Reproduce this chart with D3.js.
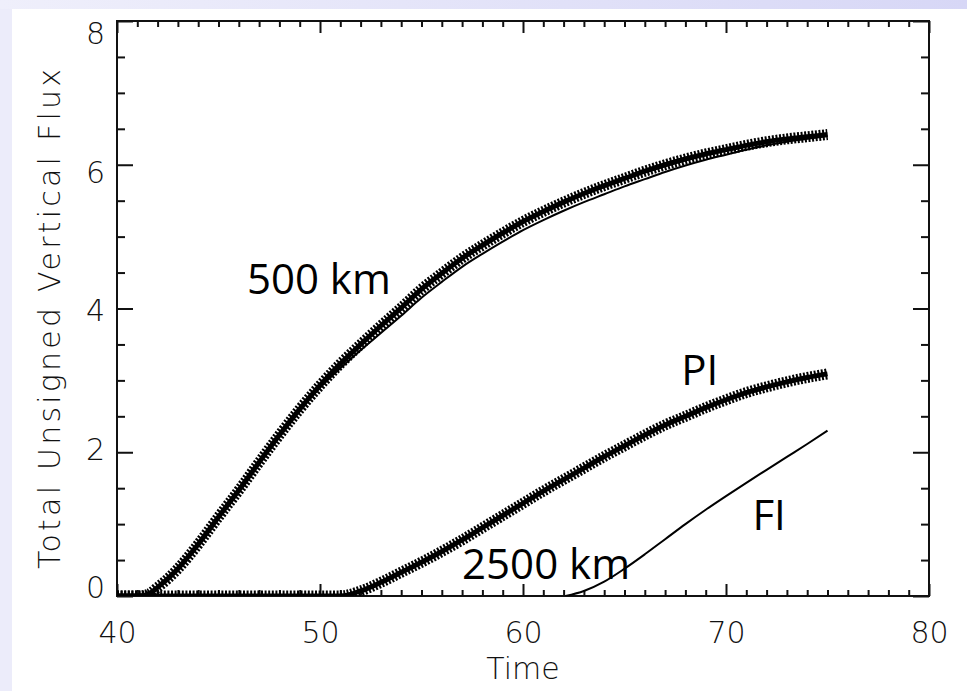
<!DOCTYPE html>
<html>
<head>
<meta charset="utf-8">
<script src="https://cdn.jsdelivr.net/npm/d3@7"></script>
<style>
  html, body { margin: 0; background: #fff; overflow: hidden; }
  svg { display: block; }
  .tick text { font-family: "DejaVu Sans", sans-serif; font-weight: 200; fill: #111; }
</style>
</head>
<body>
<div id="chart"></div>
<script>
// 500 km run, plotted with + symbols
const time500 = [40, 41, 41.5, 42, 43, 44, 45, 46, 47, 48, 49, 50, 51, 52, 53, 54, 55, 56, 57, 58, 59, 60, 61, 62, 63, 64, 65, 66, 67, 68, 69, 70, 71, 72, 73, 74, 75];
const flux500 = [0, 0, 0.02, 0.12, 0.38, 0.72, 1.1, 1.47, 1.86, 2.24, 2.6, 2.93, 3.23, 3.5, 3.76, 4.01, 4.27, 4.49, 4.7, 4.88, 5.05, 5.21, 5.35, 5.48, 5.6, 5.71, 5.81, 5.91, 6.0, 6.08, 6.15, 6.21, 6.27, 6.32, 6.36, 6.39, 6.42];
// 500 km, plain line
const flux500Line = [0, 0, 0.02, 0.12, 0.38, 0.72, 1.1, 1.47, 1.86, 2.24, 2.59, 2.9, 3.17, 3.42, 3.66, 3.9, 4.15, 4.37, 4.58, 4.76, 4.93, 5.09, 5.23, 5.36, 5.48, 5.59, 5.7, 5.8, 5.9, 5.99, 6.07, 6.14, 6.21, 6.27, 6.32, 6.36, 6.4];
// 2500 km, PI
const timePI = [40, 51, 52, 53, 54, 55, 56, 57, 58, 59, 60, 61, 62, 63, 64, 65, 66, 67, 68, 69, 70, 71, 72, 73, 74, 75];
const fluxPI = [0, 0, 0.07, 0.19, 0.33, 0.47, 0.62, 0.78, 0.95, 1.12, 1.29, 1.46, 1.62, 1.78, 1.94, 2.09, 2.24, 2.38, 2.5, 2.62, 2.73, 2.83, 2.91, 2.98, 3.04, 3.09];
// 2500 km, FI
const timeFI = [62.1, 63, 64, 65, 66, 67, 68, 69, 70, 71, 72, 73, 74, 75];
const fluxFI = [0, 0.07, 0.2, 0.38, 0.58, 0.79, 1.0, 1.2, 1.39, 1.575, 1.755, 1.935, 2.115, 2.3];

const xMajor = [40, 50, 60, 70, 80];
const yMajor = [0, 2, 4, 6, 8];
const labels = [
  { text: "500 km", t: 46.4, v: 4.2 },
  { text: "PI", t: 67.8, v: 2.93 },
  { text: "FI", t: 71.3, v: 0.92 },
  { text: "2500 km", t: 57.0, v: 0.24 }
];

const W = 967, H = 691;
const x = d3.scaleLinear().domain([40, 80]).range([117, 929]);
const y = d3.scaleLinear().domain([0, 8]).range([596, 21]);
// tick numbers sit slightly inside the axis ends in the original
const yLab = d3.scaleLinear().domain([0, 8]).range([587, 33]);

const svg = d3.select("#chart").append("svg")
  .attr("width", W).attr("height", H);

// slide background strips
const grad = svg.append("defs").append("linearGradient").attr("id", "band");
grad.append("stop").attr("offset", "0%").attr("stop-color", "#efeffb");
grad.append("stop").attr("offset", "100%").attr("stop-color", "#d7d7f6");
svg.append("rect").attr("width", W).attr("height", H).attr("fill", "#fff");
svg.append("rect").attr("width", 12).attr("height", H).attr("fill", "#ececfa");
svg.append("rect").attr("width", W).attr("height", 9).attr("fill", "url(#band)");

svg.select("defs").append("clipPath").attr("id", "plot")
  .append("rect").attr("x", 117).attr("y", 21).attr("width", 812).attr("height", 575);

// ticks, all pointing inward
function ticks(axis, vals, len, tx, fmt) {
  const g = svg.append("g").attr("transform", tx)
    .call(axis.tickValues(vals).tickSizeInner(-len).tickSizeOuter(0).tickFormat(fmt));
  g.select(".domain").remove();
  g.selectAll("line").attr("stroke", "#111").attr("stroke-width", 2);
  return g;
}
const xMinor = d3.range(41, 80).filter(d => d % 10 !== 0);
const yMinor = d3.range(0.5, 8, 0.5).filter(d => d % 2 !== 0);

const bottom = ticks(d3.axisBottom(x), xMajor, 12, "translate(0,596)", d => d);
bottom.call(g => g.selectAll("text").attr("font-size", 30).attr("y", 26));
ticks(d3.axisBottom(x), xMinor, 6, "translate(0,596)", "");
ticks(d3.axisTop(x), xMajor, 12, "translate(0,21)", "");
ticks(d3.axisTop(x), xMinor, 6, "translate(0,21)", "");

const left = ticks(d3.axisLeft(y), yMajor, 16, "translate(117,0)", d => d);
left.call(g => g.selectAll("text").attr("font-size", 30).attr("x", -12)
  .attr("dy", d => (yLab(d) - y(d)) + 10.5));
ticks(d3.axisLeft(y), yMinor, 8, "translate(117,0)", "");
ticks(d3.axisRight(y), yMajor, 16, "translate(929,0)", "");
ticks(d3.axisRight(y), yMinor, 8, "translate(929,0)", "");

svg.append("rect").attr("x", 117).attr("y", 21).attr("width", 812).attr("height", 575)
  .attr("fill", "none").attr("stroke", "#111").attr("stroke-width", 2);

// curves
const plot = svg.append("g").attr("clip-path", "url(#plot)");
const line = d3.line().x(d => x(d[0])).y(d => y(d[1])).curve(d3.curveMonotoneX);

// + symbols drawn densely: a dashed wide stroke plus a solid core
function symbolCurve(ts, vs) {
  const pts = d3.zip(ts, vs);
  plot.append("path").attr("d", line(pts)).attr("fill", "none")
    .attr("stroke", "#000").attr("stroke-width", 11).attr("stroke-dasharray", "2,1.6");
  plot.append("path").attr("d", line(pts)).attr("fill", "none")
    .attr("stroke", "#000").attr("stroke-width", 5);
}
function plainCurve(ts, vs) {
  plot.append("path").attr("d", line(d3.zip(ts, vs))).attr("fill", "none")
    .attr("stroke", "#000").attr("stroke-width", 2);
}

plainCurve(time500, flux500Line);
symbolCurve(time500, flux500);
symbolCurve(timePI, fluxPI);
plainCurve(timeFI, fluxFI);

// annotations
svg.append("g").selectAll("text").data(labels).join("text")
  .attr("x", d => x(d.t)).attr("y", d => y(d.v))
  .attr("font-family", "'Open Sans', sans-serif").attr("font-size", 42)
  .attr("fill", "#000").text(d => d.text);

// axis titles
svg.append("text").attr("x", x(60)).attr("y", 679).attr("text-anchor", "middle")
  .attr("font-family", "DejaVu Sans, sans-serif").attr("font-weight", 200)
  .attr("font-size", 30).attr("fill", "#111").text("Time");
svg.append("text").attr("transform", "translate(60,319) rotate(-90)")
  .attr("text-anchor", "middle")
  .attr("font-family", "DejaVu Sans, sans-serif").attr("font-weight", 200)
  .attr("font-size", 30).attr("fill", "#111")
  .attr("textLength", 500).attr("lengthAdjust", "spacing")
  .text("Total Unsigned Vertical Flux");
</script>
</body>
</html>
